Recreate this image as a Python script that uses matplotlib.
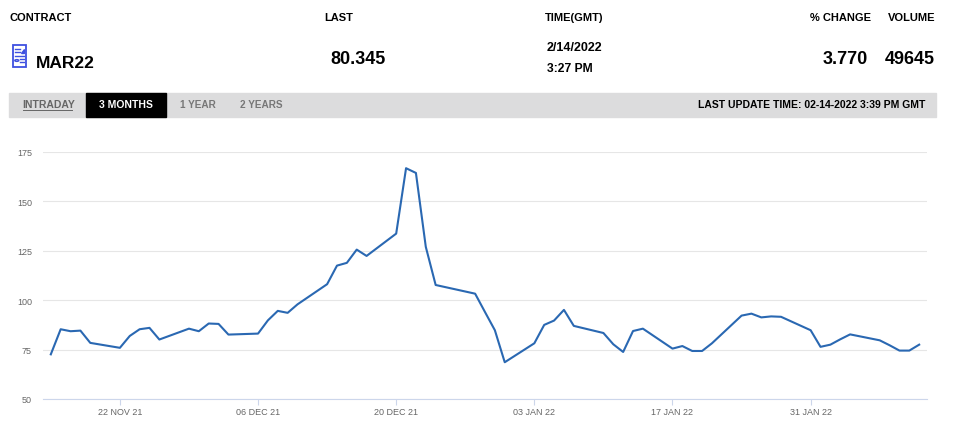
import datetime as dt
import matplotlib
matplotlib.use("Agg")
import matplotlib.pyplot as plt
import matplotlib.dates as mdates
from matplotlib.patches import Rectangle

plt.rcParams["font.family"] = ["Liberation Sans", "DejaVu Sans"]

# Veri
dates = ["2021-11-15", "2021-11-16", "2021-11-17", "2021-11-18", "2021-11-19",
         "2021-11-22", "2021-11-23", "2021-11-24", "2021-11-25", "2021-11-26",
         "2021-11-29", "2021-11-30", "2021-12-01", "2021-12-02", "2021-12-03",
         "2021-12-06", "2021-12-07", "2021-12-08", "2021-12-09", "2021-12-10",
         "2021-12-13", "2021-12-14", "2021-12-15", "2021-12-16", "2021-12-17",
         "2021-12-20", "2021-12-21", "2021-12-22", "2021-12-23", "2021-12-24",
         "2021-12-28", "2021-12-29", "2021-12-30", "2021-12-31",
         "2022-01-03", "2022-01-04", "2022-01-05", "2022-01-06", "2022-01-07",
         "2022-01-10", "2022-01-11", "2022-01-12", "2022-01-13", "2022-01-14",
         "2022-01-17", "2022-01-18", "2022-01-19", "2022-01-20", "2022-01-21",
         "2022-01-24", "2022-01-25", "2022-01-26", "2022-01-27", "2022-01-28",
         "2022-01-31", "2022-02-01", "2022-02-02", "2022-02-03", "2022-02-04",
         "2022-02-07", "2022-02-08", "2022-02-09", "2022-02-10", "2022-02-11"]
prices = [72.6, 85.3, 84.3, 84.6, 78.4,
          75.9, 81.9, 85.3, 86.0, 80.1,
          85.6, 84.3, 88.2, 88.0, 82.6,
          83.1, 89.8, 94.6, 93.6, 97.9,
          108.1, 117.5, 118.9, 125.6, 122.4,
          133.7, 166.8, 164.4, 127.0, 107.7,
          103.3, 94.0, 84.8, 68.6,
          78.2, 87.5, 89.7, 95.1, 87.0,
          83.4, 77.7, 73.8, 84.4, 85.6,
          75.5, 76.8, 74.3, 74.3, 78.2,
          92.2, 93.2, 91.3, 91.8, 91.6,
          84.8, 76.4, 77.5, 80.2, 82.7,
          79.7, 77.2, 74.5, 74.5, 77.5]
tick_dates = ["2021-11-22", "2021-12-06", "2021-12-20", "2022-01-03", "2022-01-17", "2022-01-31"]
tick_labels = ["22 NOV 21", "06 DEC 21", "20 DEC 21", "03 JAN 22", "17 JAN 22", "31 JAN 22"]
y_ticks = [50, 75, 100, 125, 150, 175]

headers = ["CONTRACT", "LAST", "TIME(GMT)", "% CHANGE", "VOLUME"]
contract = "MAR22"
last = "80.345"
time_gmt = ["2/14/2022", "3:27 PM"]
pct_change = "3.770"
volume = "49645"
tabs = ["INTRADAY", "3 MONTHS", "1 YEAR", "2 YEARS"]
update_text = "LAST UPDATE TIME: 02-14-2022 3:39 PM GMT"

W, H = 960, 431
fig = plt.figure(figsize=(W / 100, H / 100), dpi=100)
fig.patch.set_facecolor("white")


def fx(x):
    return x / W


def fy(y):
    return 1 - y / H


def txt(x, y, s, size, ha="left", color="black", weight="bold"):
    fig.text(fx(x), fy(y), s, fontsize=size, ha=ha, va="center",
             color=color, fontweight=weight)


# Başlık satırı
txt(9, 18, headers[0], 8)
txt(324, 18, headers[1], 8)
txt(545, 18, headers[2], 8)
txt(871, 18, headers[3], 8, ha="right")
txt(935, 18, headers[4], 8, ha="right")

txt(36, 63, contract, 12.5)
txt(330, 59, last, 13)
txt(547, 48, time_gmt[0], 9)
txt(547, 69, time_gmt[1], 8.7)
txt(868, 60, pct_change, 13, ha="right")
txt(935, 60, volume, 13, ha="right")

# İkon
icon_col = "#3f51e0"
fig.patches.append(Rectangle((fx(12.5), fy(68)), fx(13.5), (68 - 46) / H,
                             fill=False, ec=icon_col, lw=1.3, transform=fig.transFigure))
for (x0, x1, y) in [(15, 20, 50), (15, 20, 53), (15, 24, 56.5), (19.5, 24, 60), (19.5, 24, 63)]:
    fig.lines.append(plt.Line2D([fx(x0), fx(x1)], [fy(y), fy(y)], color=icon_col,
                                lw=1.0, transform=fig.transFigure))
fig.patches.append(plt.Polygon([(fx(20.5), fy(53.5)), (fx(24), fy(53.5)), (fx(24), fy(49.5))],
                               color=icon_col, transform=fig.transFigure))
fig.patches.append(plt.Circle((fx(16.8), fy(61.5)), 2.0 / W, fill=False, ec=icon_col,
                              lw=1.0, transform=fig.transFigure))

# Sekme çubuğu
fig.patches.append(Rectangle((fx(9), fy(117.5)), fx(927), (117.5 - 93.5) / H,
                             color="#dcdcdd", transform=fig.transFigure, zorder=0))
fig.patches.append(Rectangle((fx(86), fy(117.5)), fx(80), (117.5 - 93.5) / H,
                             color="black", transform=fig.transFigure, zorder=1))
txt(22.5, 105, tabs[0], 7.5, color="#666666")
fig.lines.append(plt.Line2D([fx(22.5), fx(72)], [fy(110.5), fy(110.5)], color="#666666",
                            lw=0.7, transform=fig.transFigure))
txt(126, 105, tabs[1], 7.5, ha="center", color="white")
txt(180, 105, tabs[2], 7.2, color="#777777")
txt(240, 105, tabs[3], 7.2, color="#777777")
txt(925, 105, update_text, 7.5, ha="right")

# Grafik
ax = fig.add_axes([fx(43), fy(400), (927 - 43) / W, (400 - 153) / H])
x = [dt.datetime.strptime(d, "%Y-%m-%d") for d in dates]
ax.plot(x, prices, color="#2a68b2", lw=1.5, clip_on=False, zorder=3)

ax.set_ylim(50, 175)
ax.set_yticks(y_ticks)
ax.set_xlim(dt.datetime(2021, 11, 14, 5), dt.datetime(2022, 2, 11, 19))
ax.set_xticks([dt.datetime.strptime(d, "%Y-%m-%d") for d in tick_dates])
ax.set_xticklabels(tick_labels)

ax.grid(axis="y", color="#e6e6e6", lw=0.8)
ax.set_axisbelow(True)
for s in ["top", "right", "left"]:
    ax.spines[s].set_visible(False)
ax.spines["bottom"].set_color("#ccd6eb")
ax.spines["bottom"].set_linewidth(0.8)
ax.tick_params(axis="x", colors="#ccd6eb", labelcolor="#666666", labelsize=6.5,
               length=4, width=0.8, pad=1.5)
ax.tick_params(axis="y", length=0, labelcolor="#666666", labelsize=6.5, pad=8)

fig.savefig("out.png", dpi=100, facecolor="white")
